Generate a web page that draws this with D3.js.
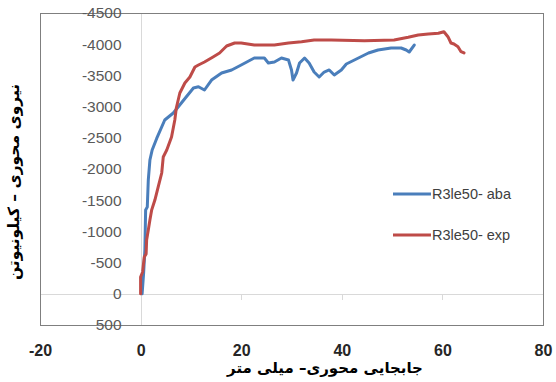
<!DOCTYPE html>
<html>
<head>
<meta charset="utf-8">
<script src="https://cdn.jsdelivr.net/npm/d3@7"></script>
<style>
  body { margin: 0; background: #fff; }
  svg { display: block; }
</style>
</head>
<body>
<div id="chart"></div>
<script>
/** Data (mm, kN) */
const abaX = [0.3, 0.6, 0.85, 1.0, 1.33, 1.53, 1.85, 2.3, 3.2, 4.8, 6.5, 8.1, 10.5, 11.5, 12.7, 14.1, 16.1, 18.1, 20.0, 22.6, 24.6, 25.4, 26.6, 28.0, 29.4, 30.0, 30.3, 31.0, 31.6, 32.6, 33.5, 34.5, 35.5, 36.5, 37.5, 38.5, 39.9, 40.9, 43.3, 45.3, 47.2, 49.8, 51.8, 52.8, 53.4, 54.4];
const abaY = [0, -333, -702, -1343, -1391, -1824, -2144, -2304, -2490, -2785, -2897, -3058, -3298, -3319, -3266, -3426, -3538, -3587, -3667, -3779, -3779, -3699, -3715, -3779, -3747, -3587, -3426, -3538, -3699, -3779, -3699, -3554, -3474, -3554, -3587, -3506, -3587, -3683, -3779, -3859, -3907, -3939, -3939, -3907, -3875, -3987];

const expX = [0, 0, 0.4, 0.73, 1.1, 1.2, 1.53, 1.85, 2.2, 2.84, 3.5, 4.2, 4.5, 5.2, 6.15, 6.8, 7.1, 7.8, 8.8, 9.8, 10.8, 11.5, 12.7, 14.4, 15.7, 17.1, 18.7, 20.0, 22.6, 26.6, 29.4, 32.0, 34.5, 37.9, 44.5, 50.4, 53.2, 55.2, 57.2, 59.2, 60.3, 61.1, 61.7, 62.3, 63.1, 63.7, 64.3];
const expY = [0, -269, -349, -590, -640, -862, -1022, -1183, -1343, -1503, -1712, -1936, -2192, -2304, -2513, -2785, -2978, -3218, -3378, -3474, -3635, -3667, -3715, -3795, -3859, -3971, -4019, -4019, -3987, -3987, -4019, -4040, -4067, -4067, -4056, -4067, -4111, -4147, -4163, -4175, -4200, -4120, -4019, -4003, -3960, -3880, -3859];

const seriesNames = ["R3le50- aba", "R3le50- exp"];
const seriesColors = ["#4A7EBB", "#BE4B48"];

const xTicks = [-20, 0, 20, 40, 60, 80];
const yTicks = [-4500, -4000, -3500, -3000, -2500, -2000, -1500, -1000, -500, 0, 500];

const xTitle = "جابجایی محوری– میلی متر";
const yTitle = "نیروی محوری – کیلونیوتن";

/** Graph configs */
const width = 556;
const height = 382;
const box = { left: 40, right: 543, top: 13, bottom: 325 };

const svg = d3
  .select("#chart")
  .append("svg")
  .attr("width", width)
  .attr("height", height);

const x = d3.scaleLinear().domain([-20, 80]).range([box.left, box.right]);
const y = d3.scaleLinear().domain([500, -4500]).range([box.bottom, box.top]);

/** Zero lines (Excel axes) */
svg
  .append("line")
  .attr("x1", box.left)
  .attr("x2", box.right)
  .attr("y1", Math.round(y(0)) + 0.5)
  .attr("y2", Math.round(y(0)) + 0.5)
  .style("stroke", "#d9d9d9");

svg
  .append("line")
  .attr("x1", Math.round(x(0)) + 0.5)
  .attr("x2", Math.round(x(0)) + 0.5)
  .attr("y1", box.top)
  .attr("y2", box.bottom)
  .style("stroke", "#d9d9d9");

/** small tick marks on the zero line */
svg
  .selectAll("line.xmark")
  .data(xTicks.filter((d) => d > 0 && d < 80))
  .enter()
  .append("line")
  .attr("class", "xmark")
  .attr("x1", (d) => Math.round(x(d)) + 0.5)
  .attr("x2", (d) => Math.round(x(d)) + 0.5)
  .attr("y1", Math.round(y(0)))
  .attr("y2", Math.round(y(0)) + 6)
  .style("stroke", "#d9d9d9");

/** Plot border */
svg
  .append("rect")
  .attr("x", box.left + 0.5)
  .attr("y", box.top + 0.5)
  .attr("width", box.right - box.left)
  .attr("height", box.bottom - box.top)
  .style("fill", "none")
  .style("stroke", "#7f7f7f");

/** Series */
const line = d3
  .line()
  .x((d) => x(d[0]))
  .y((d) => y(d[1]));

const series = [d3.zip(abaX, abaY), d3.zip(expX, expY)];

svg
  .selectAll("path.series")
  .data(series)
  .enter()
  .append("path")
  .attr("class", "series")
  .attr("d", line)
  .style("fill", "none")
  .style("stroke", (_, i) => seriesColors[i])
  .style("stroke-width", 3)
  .style("stroke-linejoin", "round")
  .style("stroke-linecap", "round");

/** Y axis labels */
const yAxis = svg
  .append("g")
  .attr("transform", `translate(${x(0)},0)`)
  .call(
    d3
      .axisLeft(y)
      .tickValues(yTicks)
      .tickSize(0)
      .tickPadding(19)
      .tickFormat((d) => String(d))
  );
yAxis.select(".domain").remove();
yAxis
  .selectAll("text")
  .style("font-family", "'Liberation Sans', Arial, sans-serif")
  .style("font-size", "15.5px")
  .style("fill", "#595959");

/** X axis labels */
const xAxis = svg
  .append("g")
  .attr("transform", `translate(0,${box.bottom})`)
  .call(
    d3
      .axisBottom(x)
      .tickValues(xTicks)
      .tickSize(0)
      .tickPadding(20)
      .tickFormat((d) => String(d))
  );
xAxis.select(".domain").remove();
xAxis
  .selectAll("text")
  .style("font-family", "'Liberation Sans', Arial, sans-serif")
  .style("font-size", "16px")
  .style("font-weight", "bold")
  .style("fill", "#262626");

/** Axis titles */
svg
  .append("text")
  .attr("x", 325)
  .attr("y", 373)
  .attr("text-anchor", "middle")
  .style("font-family", "'DejaVu Sans', sans-serif")
  .style("font-size", "15px")
  .style("font-weight", "bold")
  .style("fill", "#000")
  .text(xTitle);

svg
  .append("text")
  .attr("transform", "translate(19,182) rotate(-90)")
  .attr("text-anchor", "middle")
  .style("font-family", "'DejaVu Sans', sans-serif")
  .style("font-size", "15.5px")
  .style("font-weight", "bold")
  .style("fill", "#000")
  .text(yTitle);

/** Legend */
const legend = svg
  .selectAll("g.legend")
  .data(seriesNames)
  .enter()
  .append("g")
  .attr("class", "legend")
  .attr("transform", (_, i) => `translate(393,${194 + i * 41})`);

legend
  .append("line")
  .attr("x1", 0)
  .attr("x2", 38)
  .style("stroke", (_, i) => seriesColors[i])
  .style("stroke-width", 3);

legend
  .append("text")
  .attr("x", 39)
  .attr("dy", "0.35em")
  .style("font-family", "'Liberation Sans', Arial, sans-serif")
  .style("font-size", "14.5px")
  .style("fill", "#404040")
  .text((d) => d);
</script>
</body>
</html>
